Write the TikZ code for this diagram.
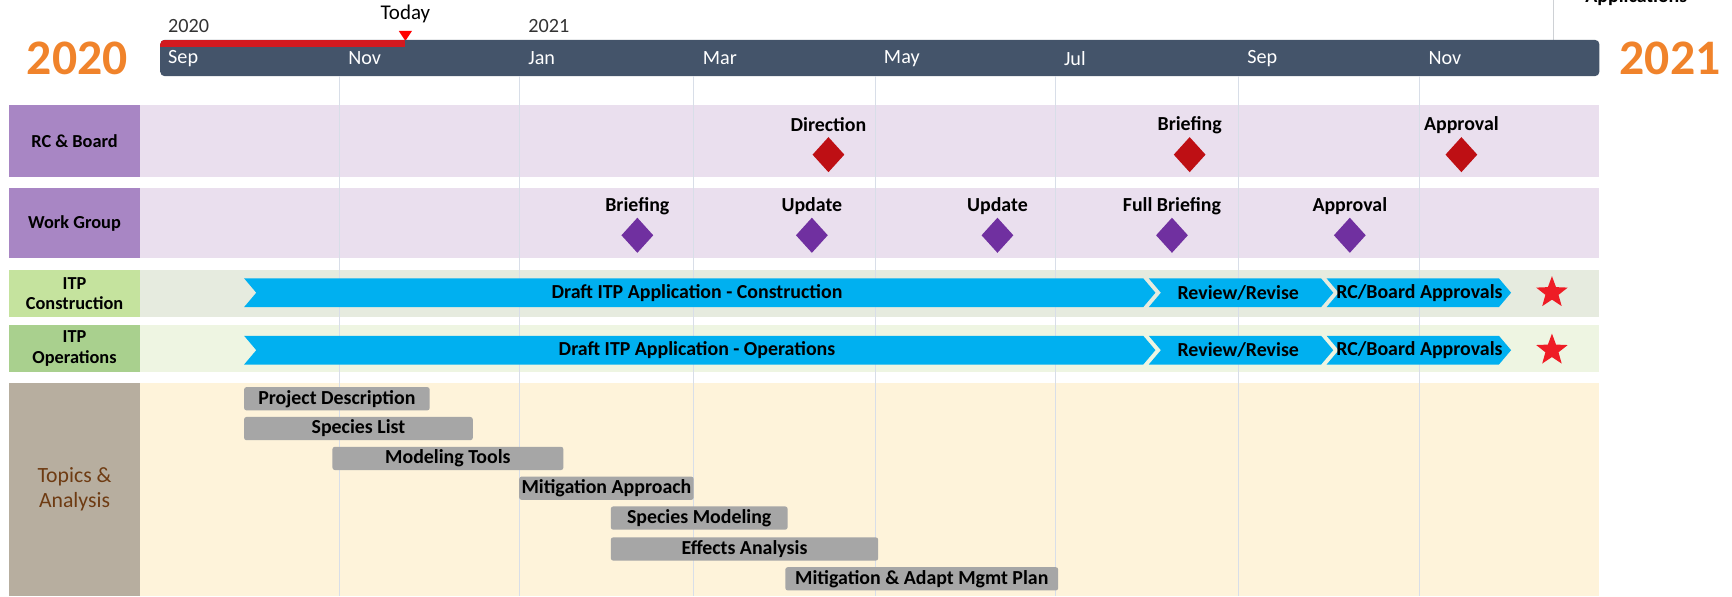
\documentclass[tikz,border=0pt]{standalone}
\usepackage{fontspec}
\setmainfont{Carlito}
\usetikzlibrary{shapes.geometric,positioning}

\definecolor{barslate}{HTML}{44546A}
\definecolor{todayred}{HTML}{D2191F}
\definecolor{yearorange}{HTML}{F0832B}
\definecolor{rcbox}{HTML}{A886C4}
\definecolor{rcrow}{HTML}{EADFEE}
\definecolor{itpcbox}{HTML}{C5E39E}
\definecolor{itpcrow}{HTML}{E6EBDF}
\definecolor{itpobox}{HTML}{A9D08E}
\definecolor{itporow}{HTML}{EEF5E2}
\definecolor{topbox}{HTML}{B7AE9F}
\definecolor{toprow}{HTML}{FEF3DA}
\definecolor{toptext}{HTML}{6E3B12}
\definecolor{diared}{HTML}{BE0F14}
\definecolor{diapurple}{HTML}{7030A0}
\definecolor{chevblue}{HTML}{00B0F0}
\definecolor{starred}{HTML}{EE1C25}
\definecolor{gridline}{HTML}{D8DEE8}
\definecolor{topicgray}{HTML}{A6A6A6}

\begin{document}
\begin{tikzpicture}[x=0.25mm,y=-0.25mm,
  rowtxt/.style={font=\bfseries\fontsize{11.8}{13}\selectfont,align=center,inner sep=0pt},
  mstxt/.style={font=\bfseries\fontsize{12.8}{14}\selectfont,inner sep=0pt},
  month/.style={font=\fontsize{13}{15}\selectfont,text=white,anchor=west,inner sep=0pt},
  rcdia/.style={diamond,fill=diared,minimum width=7.25mm,minimum height=8mm,inner sep=0pt},
  wgdia/.style={rcdia,fill=diapurple},
  chev/.style={fill=chevblue},
  chevtxt/.style={font=\bfseries\fontsize{12.8}{14}\selectfont,inner sep=0pt},
  goal/.style={star,star points=5,star point ratio=2.4,fill=starred,minimum size=7.5mm,inner sep=0pt},
  topic/.style={fill=topicgray,rounded corners=1.5pt,minimum height=5.25mm,inner sep=0pt,
    font=\bfseries\fontsize{12.8}{14}\selectfont}
]
\useasboundingbox (0,0) rectangle (1568,540);

\draw[color=gridline!80!black!60] (1406,0) -- (1406,36);
\node[mstxt,anchor=base west] (apps) at (1435,2) {Applications};

\node[font=\bfseries\fontsize{32}{36}\selectfont,text=yearorange] (yrStart) at (70,53) {2020};
\node[font=\bfseries\fontsize{32}{36}\selectfont,text=yearorange] (yrEnd) at (1512,53) {2021};
\node[font=\fontsize{13}{15}\selectfont,text=black!80,anchor=west,inner sep=0pt] (smStart) at (152,24) {2020};
\node[font=\fontsize{13}{15}\selectfont,text=black!80,anchor=west,inner sep=0pt] (smEnd) at (478,24) {2021};
\node[font=\fontsize{13.5}{15}\selectfont,inner sep=0pt] (today) at (367,13) {Today};
\fill[red] (361,28) -- (373,28) -- (367,37) -- cycle;

\fill[barslate,rounded corners=3pt] (145,36) rectangle (1448,69);
\begin{scope}
\clip[rounded corners=3pt] (145,36) rectangle (1448,69);
\fill[todayred] (145,36) rectangle (367,43);
\end{scope}
\node[month] (mSep) at (152,53) {Sep};
\node[month] (mNov) at (315,53) {Nov};
\node[month] (mJan) at (478,53) {Jan};
\node[month] (mMar) at (636,53) {Mar};
\node[month] (mMay) at (800,53) {May};
\node[month] (mJul) at (963,53) {Jul};
\node[month] (mSepB) at (1129,53) {Sep};
\node[month] (mNovB) at (1293,53) {Nov};

\fill[rcbox] (8,95) rectangle (127,160);
\fill[rcrow] (127,95) rectangle (1448,160);
\fill[rcbox] (8,170) rectangle (127,234);
\fill[rcrow] (127,170) rectangle (1448,234);
\fill[itpcbox] (8,244) rectangle (127,287);
\fill[itpcrow] (127,244) rectangle (1448,287);
\fill[itpobox] (8,294) rectangle (127,337);
\fill[itporow] (127,294) rectangle (1448,337);
\fill[topbox] (8,347) rectangle (127,540);
\fill[toprow] (127,347) rectangle (1448,540);

\draw[gridline] (307,69) -- (307,540);
\draw[gridline] (470,69) -- (470,540);
\draw[gridline] (628,69) -- (628,540);
\draw[gridline] (792,69) -- (792,540);
\draw[gridline] (955,69) -- (955,540);
\draw[gridline] (1121,69) -- (1121,540);
\draw[gridline] (1285,69) -- (1285,540);

\node[rowtxt] (labRC) at (67.5,128) {RC \& Board};
\node[rowtxt] (labWG) at (67.5,202) {Work Group};
\node[rowtxt] (labITPC) at (67.5,265.5) {ITP\\Construction};
\node[rowtxt] (labITPO) at (67.5,315.5) {ITP\\Operations};
\node[font=\fontsize{14}{16.5}\selectfont,text=toptext,align=center,inner sep=0pt] (labTopics) at (67.5,443) {Topics \&\\Analysis};

\node[rcdia] (rcDir) at (750,140) {};
\node[mstxt] (rcDirLab) at (750,113) {Direction};
\node[rcdia] (rcBrf) at (1077,140) {};
\node[mstxt] (rcBrfLab) at (1077,113) {Briefing};
\node[rcdia] (rcApp) at (1323,140) {};
\node[mstxt] (rcAppLab) at (1323,113) {Approval};

\node[wgdia] (wgBrf) at (577,213) {};
\node[mstxt] (wgBrfLab) at (577,187) {Briefing};
\node[wgdia] (wgUpdA) at (735,213) {};
\node[mstxt] (wgUpdALab) at (735,187) {Update};
\node[wgdia] (wgUpdB) at (903,213) {};
\node[mstxt] (wgUpdBLab) at (903,187) {Update};
\node[wgdia] (wgFull) at (1061,213) {};
\node[mstxt] (wgFullLab) at (1061,187) {Full Briefing};
\node[wgdia] (wgApp) at (1222,213) {};
\node[mstxt] (wgAppLab) at (1222,187) {Approval};

\fill[chev] (221,252) -- (1035,252) -- (1046,265) -- (1035,278) -- (221,278) -- (232,265) -- cycle;
\node[chevtxt] (cDraft) at (631,265) {Draft ITP Application - Construction};
\fill[chev] (1040,252) -- (1196,252) -- (1207,265) -- (1196,278) -- (1040,278) -- (1051,265) -- cycle;
\node[chevtxt] (cRev) at (1121,265) {Review/Revise};
\fill[chev] (1201,252) -- (1357,252) -- (1368,265) -- (1357,278) -- (1201,278) -- (1212,265) -- cycle;
\node[chevtxt] (cRC) at (1285,265) {RC/Board Approvals};
\node[goal] (goalC) at (1405,265) {};

\fill[chev] (221,304) -- (1035,304) -- (1046,317) -- (1035,330) -- (221,330) -- (232,317) -- cycle;
\node[chevtxt] (oDraft) at (631,317) {Draft ITP Application - Operations};
\fill[chev] (1040,304) -- (1196,304) -- (1207,317) -- (1196,330) -- (1040,330) -- (1051,317) -- cycle;
\node[chevtxt] (oRev) at (1121,317) {Review/Revise};
\fill[chev] (1201,304) -- (1357,304) -- (1368,317) -- (1357,330) -- (1201,330) -- (1212,317) -- cycle;
\node[chevtxt] (oRC) at (1285,317) {RC/Board Approvals};
\node[goal] (goalO) at (1405,317) {};

\node[topic,minimum width=42mm] (tpProj) at (305,361) {Project Description};
\node[topic,minimum width=51.75mm] (tpList) at (324.5,388) {Species List};
\node[topic,minimum width=52.25mm] (tpTools) at (405.5,415) {Modeling Tools};
\node[topic,minimum width=39.5mm] (tpMitA) at (549,442) {Mitigation Approach};
\node[topic,minimum width=40mm] (tpModel) at (633,469) {Species Modeling};
\node[topic,minimum width=60.5mm] (tpEff) at (674,497) {Effects Analysis};
\node[topic,minimum width=61.75mm] (tpPlan) at (834.5,524) {Mitigation \& Adapt Mgmt Plan};
\end{tikzpicture}
\end{document}
